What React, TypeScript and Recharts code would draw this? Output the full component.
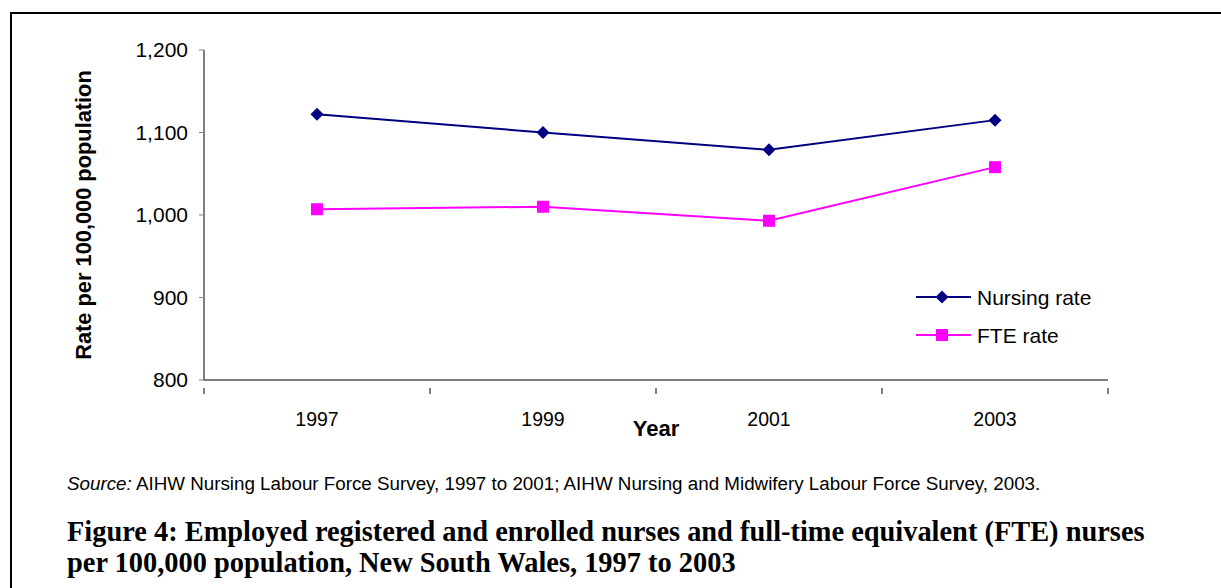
import React from "react";
import { Line, LineChart, XAxis, YAxis } from "recharts";

const years = ["1997", "1999", "2001", "2003"];
const nursingRate = [1122, 1100, 1079, 1115];
const fteRate = [1007, 1010, 993, 1058];
const yTicks = [800, 900, 1000, 1100, 1200];

const NAVY = "#000080";
const MAGENTA = "#FF00FF";
const SANS = "'Liberation Sans', Arial, sans-serif";

const data = years.map((year, i) => ({
  year,
  pos: i + 0.5,
  nursing: nursingRate[i],
  fte: fteRate[i],
}));

const xTicks: number[] = [];
for (let i = 0; i <= years.length * 2; i++) xTicks.push(i / 2);

const DIAMOND_R = 6.5;
const SQUARE_S = 6;

const Diamond = (props: any) => {
  const { cx, cy, fill } = props;
  if (cx == null || cy == null) return null;
  const r = DIAMOND_R;
  return (
    <path
      d={`M${cx},${cy - r} L${cx + r},${cy} L${cx},${cy + r} L${cx - r},${cy} Z`}
      fill={fill}
    />
  );
};

const Square = (props: any) => {
  const { cx, cy, fill } = props;
  if (cx == null || cy == null) return null;
  const s = SQUARE_S;
  return <rect x={cx - s} y={cy - s} width={s * 2} height={s * 2} fill={fill} />;
};

// tick marks at category boundaries, year labels in between
const YearTick = (props: any) => {
  const { x, y, payload } = props;
  const v = payload.value as number;
  if (Number.isInteger(v)) {
    return <line x1={x} x2={x} y1={y} y2={y + 6} stroke="#000" strokeWidth={1} />;
  }
  return (
    <text x={x} y={y + 38} textAnchor="middle" fontFamily={SANS} fontSize={19.5} fill="#000">
      {years[Math.floor(v)]}
    </text>
  );
};

const legendItems = [
  { name: "Nursing rate", color: NAVY, shape: "diamond" },
  { name: "FTE rate", color: MAGENTA, shape: "square" },
];

const LegendBox = () => (
  <svg width={220} height={80} style={{ display: "block" }}>
    {legendItems.map((it, i) => {
      const y = 17 + i * 38;
      return (
        <g key={it.name}>
          <line x1={6} x2={61} y1={y} y2={y} stroke={it.color} strokeWidth={2} />
          {it.shape === "diamond" ? (
            <Diamond cx={32} cy={y} fill={it.color} />
          ) : (
            <Square cx={32} cy={y} fill={it.color} />
          )}
          <text x={67} y={y + 7.5} fontFamily={SANS} fontSize={21} fill="#000">
            {it.name}
          </text>
        </g>
      );
    })}
  </svg>
);

export default function App() {
  return (
    <div
      style={{
        position: "absolute",
        left: 0,
        top: 0,
        width: 1221,
        height: 588,
        overflow: "hidden",
        background: "#fff",
      }}
    >
      <div
        style={{
          position: "absolute",
          left: 10,
          top: 12,
          width: 1300,
          height: 700,
          border: "2px solid #000",
          boxSizing: "border-box",
        }}
      />
      <div style={{ position: "absolute", left: 0, top: 0 }}>
        <LineChart
          width={1221}
          height={460}
          data={data}
          margin={{ top: 50, right: 113, left: 144, bottom: 50 }}
        >
          <XAxis
            dataKey="pos"
            type="number"
            domain={[0, years.length]}
            ticks={xTicks}
            interval={0}
            tickLine={false}
            tick={<YearTick />}
            axisLine={{ stroke: "#808080", strokeWidth: 2 }}
            height={30}
            label={{
              value: "Year",
              position: "insideBottom",
              offset: -26,
              fontFamily: SANS,
              fontSize: 22,
              fontWeight: "bold",
              fill: "#000",
            }}
          />
          <YAxis
            domain={[800, 1200]}
            ticks={yTicks}
            width={60}
            tickSize={5}
            tickMargin={11}
            tickLine={{ stroke: "#808080" }}
            axisLine={{ stroke: "#000" }}
            tickFormatter={(v: number) => v.toLocaleString("en-US")}
            tick={{ fontFamily: SANS, fontSize: 21, fill: "#000" }}
            label={{
              value: "Rate per 100,000 population",
              angle: -90,
              position: "insideLeft",
              offset: -61,
              style: { textAnchor: "middle" },
              fontFamily: SANS,
              fontSize: 21.8,
              fontWeight: "bold",
              fill: "#000",
            }}
          />
          <Line
            dataKey="nursing"
            name="Nursing rate"
            stroke={NAVY}
            strokeWidth={2}
            dot={<Diamond fill={NAVY} />}
            isAnimationActive={false}
          />
          <Line
            dataKey="fte"
            name="FTE rate"
            stroke={MAGENTA}
            strokeWidth={2}
            dot={<Square fill={MAGENTA} />}
            isAnimationActive={false}
          />
        </LineChart>
      </div>
      <div style={{ position: "absolute", left: 910, top: 280 }}>
        <LegendBox />
      </div>
      <div
        style={{
          position: "absolute",
          left: 67,
          top: 473,
          fontFamily: SANS,
          fontSize: 18.8,
          color: "#000",
          whiteSpace: "nowrap",
        }}
      >
        <i>Source:</i> AIHW Nursing Labour Force Survey, 1997 to 2001; AIHW Nursing and Midwifery
        Labour Force Survey, 2003.
      </div>
      <div
        style={{
          position: "absolute",
          left: 67,
          top: 516,
          width: 1140,
          fontFamily: "'Liberation Serif', 'DejaVu Serif', serif",
          fontWeight: "bold",
          fontSize: 28.4,
          lineHeight: "31px",
          color: "#000",
          whiteSpace: "nowrap",
        }}
      >
        Figure 4: Employed registered and enrolled nurses and full-time equivalent (FTE) nurses
        <br />
        per 100,000 population, New South Wales, 1997 to 2003
      </div>
    </div>
  );
}
